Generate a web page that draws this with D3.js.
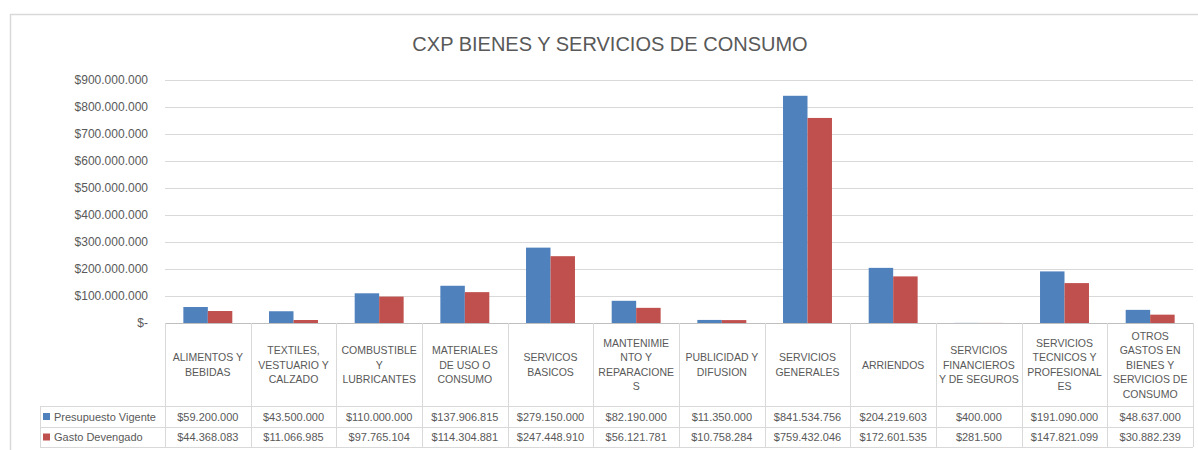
<!DOCTYPE html>
<html>
<head>
<meta charset="utf-8">
<script src="https://cdn.jsdelivr.net/npm/d3@7"></script>
<style>
  body { margin: 0; background: #fff; }
  svg { display: block; font-family: "Liberation Sans", Arial, sans-serif; }
</style>
</head>
<body>
<svg id="chart" width="1198" height="450"></svg>
<script>
// data
const categories = [
  'ALIMENTOS Y|BEBIDAS',
  'TEXTILES,|VESTUARIO Y|CALZADO',
  'COMBUSTIBLE|Y|LUBRICANTES',
  'MATERIALES|DE USO O|CONSUMO',
  'SERVICOS|BASICOS',
  'MANTENIMIE|NTO Y|REPARACIONE|S',
  'PUBLICIDAD Y|DIFUSION',
  'SERVICIOS|GENERALES',
  'ARRIENDOS',
  'SERVICIOS|FINANCIEROS|Y DE SEGUROS',
  'SERVICIOS|TECNICOS Y|PROFESIONAL|ES',
  'OTROS|GASTOS EN|BIENES Y|SERVICIOS DE|CONSUMO'
];
const seriesNames = ['Presupuesto Vigente', 'Gasto Devengado'];
const presupuestoVigente = [59200000, 43500000, 110000000, 137906815, 279150000, 82190000,
  11350000, 841534756, 204219603, 400000, 191090000, 48637000];
const gastoDevengado = [44368083, 11066985, 97765104, 114304881, 247448910, 56121781,
  10758284, 759432046, 172601535, 281500, 147821099, 30882239];
const yTicks = [0, 100000000, 200000000, 300000000, 400000000, 500000000,
  600000000, 700000000, 800000000, 900000000];
const title = 'CXP BIENES Y SERVICIOS DE CONSUMO';

const colors = ['#4F81BD', '#C0504D'];
const textColor = '#595959';
const lineColor = '#D9D9D9';

const svg = d3.select('#chart');

const locale = d3.formatLocale({decimal: ',', thousands: '.', grouping: [3], currency: ['$', '']});
const money = locale.format('$,.0f');
const fmt = v => v === 0 ? '$-' : money(v);

const plot = {left: 165, right: 1193, top: 80, bottom: 323};
const rows = {header: 406, r1: 427, r2: 447, legendLeft: 40};

// outer border
svg.append('rect')
  .attr('x', 10.5).attr('y', 14.5)
  .attr('width', 1200).attr('height', 460)
  .attr('fill', 'none')
  .attr('stroke', lineColor)
  .attr('stroke-width', 1.5);

svg.append('text')
  .attr('x', 610).attr('y', 51)
  .attr('text-anchor', 'middle')
  .attr('font-size', 20)
  .attr('fill', textColor)
  .text(title);

const x0 = d3.scaleBand()
  .domain(d3.range(categories.length))
  .range([plot.left, plot.right])
  .padding(0);

const x1 = d3.scaleBand()
  .domain(d3.range(seriesNames.length))
  .range([0, x0.bandwidth()])
  .paddingInner(0)
  .paddingOuter(0.75);

const y = d3.scaleLinear()
  .domain([0, 900000000])
  .range([plot.bottom, plot.top]);

// gridlines
svg.append('g')
  .selectAll('line')
  .data(yTicks.slice(1))
  .join('line')
  .attr('x1', plot.left).attr('x2', plot.right)
  .attr('y1', d => Math.round(y(d)) + 0.5).attr('y2', d => Math.round(y(d)) + 0.5)
  .attr('stroke', lineColor);

// y axis
const yAxis = svg.append('g')
  .attr('transform', `translate(${plot.left},0)`)
  .call(d3.axisLeft(y).tickValues(yTicks).tickFormat(fmt).tickSize(0).tickPadding(17));
yAxis.select('.domain').remove();
yAxis.selectAll('text')
  .attr('font-size', 12)
  .attr('font-family', '"Liberation Sans", Arial, sans-serif')
  .attr('fill', textColor);

// bars
const seriesValues = [presupuestoVigente, gastoDevengado];
seriesValues.forEach((vals, s) => {
  svg.append('g')
    .selectAll('rect')
    .data(vals)
    .join('rect')
    .attr('x', (d, i) => x0(i) + x1(s))
    .attr('width', x1.bandwidth())
    .attr('y', d => y(d))
    .attr('height', d => y(0) - y(d))
    .attr('fill', colors[s]);
});

// data table
const table = svg.append('g');
const hLines = [
  {y: plot.bottom, x1: plot.left},
  {y: rows.header, x1: rows.legendLeft},
  {y: rows.r1, x1: rows.legendLeft},
  {y: rows.r2, x1: rows.legendLeft}
];
table.selectAll('line.h')
  .data(hLines)
  .join('line')
  .attr('class', 'h')
  .attr('x1', d => d.x1).attr('x2', plot.right)
  .attr('y1', d => d.y + 0.5).attr('y2', d => d.y + 0.5)
  .attr('stroke', (d, i) => i === 0 ? '#BFBFBF' : lineColor);

const vPos = d3.range(categories.length).map(i => x0(i)).concat([plot.right]);
table.selectAll('line.v')
  .data(vPos)
  .join('line')
  .attr('class', 'v')
  .attr('x1', d => Math.round(d) + 0.5).attr('x2', d => Math.round(d) + 0.5)
  .attr('y1', plot.bottom).attr('y2', rows.r2)
  .attr('stroke', lineColor);

table.append('line')
  .attr('x1', rows.legendLeft + 0.5).attr('x2', rows.legendLeft + 0.5)
  .attr('y1', rows.header).attr('y2', rows.r2)
  .attr('stroke', lineColor);

// category labels
const lh = 14.5;
categories.forEach((c, i) => {
  const lines = c.split('|');
  const cy = (plot.bottom + rows.header) / 2;
  const t = table.append('text')
    .attr('text-anchor', 'middle')
    .attr('font-size', 10.5)
    .attr('fill', textColor);
  lines.forEach((l, k) => {
    t.append('tspan')
      .attr('x', x0(i) + x0.bandwidth() / 2)
      .attr('y', cy + (k - (lines.length - 1) / 2) * lh + 4)
      .text(l);
  });
});

// value rows + legend keys
const rowTops = [rows.header, rows.r1];
const rowBottoms = [rows.r1, rows.r2];
seriesValues.forEach((vals, s) => {
  const cy = (rowTops[s] + rowBottoms[s]) / 2;
  table.append('rect')
    .attr('x', 43).attr('y', cy - 3.5)
    .attr('width', 7).attr('height', 7)
    .attr('fill', colors[s]);
  table.append('text')
    .attr('x', 54).attr('y', cy + 4)
    .attr('font-size', 11)
    .attr('fill', textColor)
    .text(seriesNames[s]);
  table.append('g')
    .selectAll('text')
    .data(vals)
    .join('text')
    .attr('x', (d, i) => x0(i) + x0.bandwidth() / 2)
    .attr('y', cy + 4)
    .attr('text-anchor', 'middle')
    .attr('font-size', 11)
    .attr('fill', textColor)
    .text(d => money(d));
});
</script>
</body>
</html>
